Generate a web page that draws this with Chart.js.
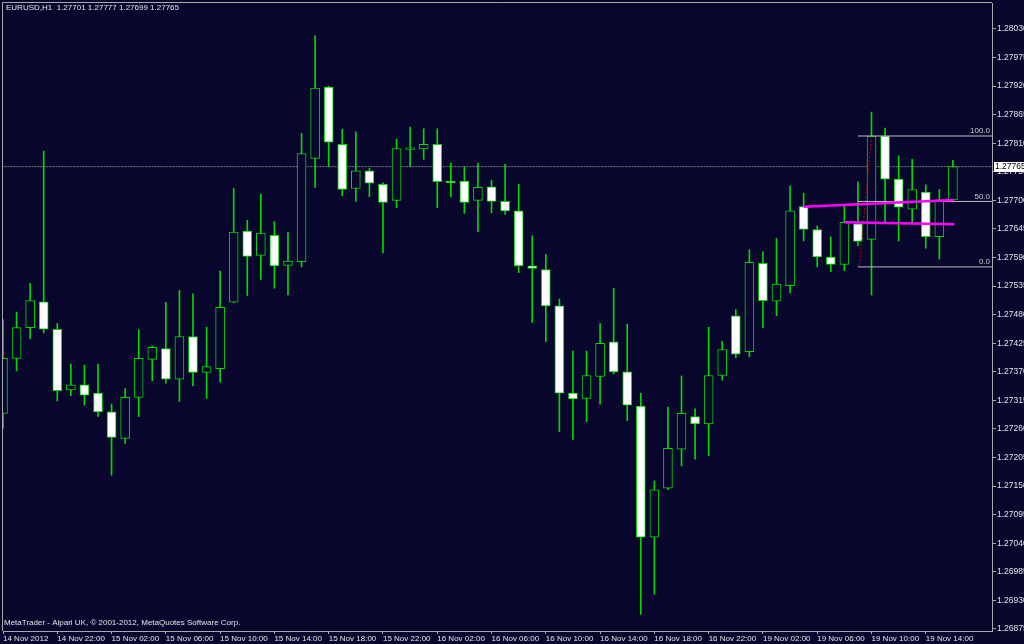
<!DOCTYPE html>
<html>
<head>
<meta charset="utf-8">
<title>EURUSD,H1</title>
<script src="https://cdn.jsdelivr.net/npm/chart.js@4.4.1/dist/chart.umd.min.js"></script>
<style>
  html, body { margin: 0; padding: 0; background: #08062d; }
  #wrap { width: 1024px; height: 644px; position: relative; }
</style>
</head>
<body>
<div id="wrap"><canvas id="chart_eurusdH1"></canvas></div>
<script>
// EURUSD H1, one bar per hour: 14 Nov 18:00 .. 16 Nov 23:00, 19 Nov 00:00 .. 19 Nov 16:00
var symbolName = 'EURUSD,H1';
var open = [
  1.27290, 1.27396, 1.27455, 1.27505, 1.27452, 1.27335, 1.27345, 1.27329, 1.27293, 1.27242,
  1.27321, 1.27394, 1.27415, 1.27356, 1.27438, 1.27369, 1.27376, 1.27504, 1.27641, 1.27594,
  1.27633, 1.27575, 1.27582, 1.27781, 1.27918, 1.27808, 1.27723, 1.27757, 1.27731, 1.27700,
  1.27798, 1.27799, 1.27808, 1.27737, 1.27737, 1.27700, 1.27726, 1.27698, 1.27680, 1.27574,
  1.27567, 1.27497, 1.27329, 1.27319, 1.27361, 1.27428, 1.27370, 1.27304, 1.27052, 1.27146,
  1.27221, 1.27284, 1.27270, 1.27363, 1.27478, 1.27409, 1.27579, 1.27506, 1.27536, 1.27688,
  1.27644, 1.27591, 1.27577, 1.27655, 1.27625, 1.27824, 1.27741, 1.27683, 1.27716, 1.27630,
  1.27701
];
var high = [
  1.27470, 1.27485, 1.27540, 1.27795, 1.27463, 1.27385, 1.27383, 1.27385, 1.27308, 1.27338,
  1.27451, 1.27420, 1.27504, 1.27527, 1.27520, 1.27456, 1.27564, 1.27723, 1.27662, 1.27712,
  1.27659, 1.27639, 1.27829, 1.28017, 1.27920, 1.27837, 1.27832, 1.27762, 1.27734, 1.27818,
  1.27841, 1.27838, 1.27838, 1.27772, 1.27765, 1.27772, 1.27739, 1.27770, 1.27731, 1.27632,
  1.27596, 1.27510, 1.27410, 1.27410, 1.27463, 1.27531, 1.27462, 1.27329, 1.27160, 1.27302,
  1.27362, 1.27299, 1.27456, 1.27429, 1.27490, 1.27605, 1.27601, 1.27627, 1.27728, 1.27714,
  1.27651, 1.27630, 1.27693, 1.27736, 1.27870, 1.27839, 1.27786, 1.27779, 1.27730, 1.27721,
  1.27777
];
var low = [
  1.27261, 1.27372, 1.27434, 1.27445, 1.27314, 1.27324, 1.27306, 1.27284, 1.27171, 1.27232,
  1.27284, 1.27353, 1.27348, 1.27313, 1.27343, 1.27319, 1.27350, 1.27503, 1.27517, 1.27548,
  1.27531, 1.27518, 1.27572, 1.27725, 1.27765, 1.27709, 1.27698, 1.27707, 1.27599, 1.27686,
  1.27765, 1.27779, 1.27686, 1.27707, 1.27675, 1.27640, 1.27676, 1.27673, 1.27561, 1.27465,
  1.27428, 1.27255, 1.27240, 1.27274, 1.27308, 1.27366, 1.27276, 1.26903, 1.26942, 1.27143,
  1.27189, 1.27202, 1.27209, 1.27354, 1.27397, 1.27399, 1.27455, 1.27478, 1.27522, 1.27622,
  1.27572, 1.27563, 1.27565, 1.27613, 1.27518, 1.27656, 1.27622, 1.27656, 1.27608, 1.27587,
  1.27699
];
var close = [
  1.27396, 1.27455, 1.27507, 1.27452, 1.27334, 1.27345, 1.27325, 1.27293, 1.27244, 1.27321,
  1.27396, 1.27417, 1.27356, 1.27438, 1.27369, 1.27380, 1.27494, 1.27639, 1.27592, 1.27637,
  1.27574, 1.27583, 1.27790, 1.27916, 1.27812, 1.27721, 1.27757, 1.27733, 1.27696, 1.27800,
  1.27801, 1.27808, 1.27736, 1.27734, 1.27696, 1.27725, 1.27698, 1.27680, 1.27574, 1.27569,
  1.27497, 1.27329, 1.27318, 1.27363, 1.27425, 1.27370, 1.27306, 1.27052, 1.27143, 1.27223,
  1.27290, 1.27270, 1.27363, 1.27413, 1.27404, 1.27581, 1.27507, 1.27539, 1.27680, 1.27644,
  1.27591, 1.27577, 1.27658, 1.27621, 1.27824, 1.27741, 1.27687, 1.27721, 1.27630, 1.27701,
  1.27765
];

// time axis: bar index of each label, and its text
var xTickIdx = [0, 4, 8, 12, 16, 20, 24, 28, 32, 36, 40, 44, 48, 52, 56, 60, 64, 68];
var xTickText = [
  '14 Nov 2012', '14 Nov 22:00', '15 Nov 02:00', '15 Nov 06:00', '15 Nov 10:00', '15 Nov 14:00',
  '15 Nov 18:00', '15 Nov 22:00', '16 Nov 02:00', '16 Nov 06:00', '16 Nov 10:00', '16 Nov 14:00',
  '16 Nov 18:00', '16 Nov 22:00', '19 Nov 02:00', '19 Nov 06:00', '19 Nov 10:00', '19 Nov 14:00'
];
var yTicks = [
  1.26875, 1.26930, 1.26985, 1.27040, 1.27095, 1.27150, 1.27205, 1.27260, 1.27315, 1.27370, 1.27425,
  1.27480, 1.27535, 1.27590, 1.27645, 1.27700, 1.27755, 1.27810, 1.27865, 1.27920, 1.27975, 1.28030
];

// drawn objects: fibo levels and two trendlines (bar index, price)
var fiboLevels = [1.27824, 1.27698, 1.27572];
var fiboNames = ['100.0', '50.0', '0.0'];
var fiboStart = 63;
var fiboTrend = [{x: 64, y: 1.27824}, {x: 63.1, y: 1.27572}];
var trendUpper = [{x: 59, y: 1.27688}, {x: 70.1, y: 1.27701}];
var trendLower = [{x: 62, y: 1.27658}, {x: 70.1, y: 1.27654}];

var BG = '#08062d';
var GREEN = '#00d800';
var FRAME = '#a9a9a9';
var TEXT = '#e4e4e4';
var FAMILY = "'Liberation Sans', Arial, sans-serif";
var FONT = {family: FAMILY, size: 8};
var last = close.length - 1;

var bodyData = open.map(function (o, i) { return {x: i, y: [o, close[i]]}; });
var bodyFill = open.map(function (o, i) { return close[i] >= o ? BG : '#ffffff'; });
var wickData = high.map(function (h, i) { return {x: i, y: [low[i], h]}; });

var fiboSets = fiboLevels.map(function (lv, k) {
    return {
        type: 'line', label: 'Fibo ' + fiboNames[k],
        data: [{x: fiboStart, y: lv}, {x: 80, y: lv}],
        borderColor: '#bdbdbd', borderWidth: 1, pointRadius: 0, order: 2, clip: 0
    };
});

var chart_eurusdH1 = new Chart(document.getElementById('chart_eurusdH1'), {
    type: 'bar',
    data: {
        datasets: [
            {
                type: 'line', label: 'Bid line',
                data: [{x: -1, y: close[last]}, {x: 80, y: close[last]}],
                borderColor: '#7c7c7c', borderWidth: 1, borderDash: [2, 1],
                pointRadius: 0, order: 5, clip: 0
            },
            {
                label: 'Wicks', data: wickData,
                backgroundColor: GREEN, borderWidth: 0,
                barThickness: 1, grouped: false, order: 4
            },
            {
                label: 'Bodies', data: bodyData,
                backgroundColor: bodyFill, borderColor: GREEN, borderWidth: 1,
                borderSkipped: false, barThickness: 9, grouped: false, order: 3
            }
        ].concat(fiboSets).concat([
            {
                type: 'line', label: 'Fibo trend', data: fiboTrend,
                borderColor: '#c00000', borderWidth: 1, borderDash: [2, 2],
                pointRadius: 0, order: 2
            },
            {
                type: 'line', label: 'Trend 1', data: trendUpper,
                borderColor: '#ff00ff', borderWidth: 2.5, pointRadius: 0, order: 1
            },
            {
                type: 'line', label: 'Trend 2', data: trendLower,
                borderColor: '#ff00ff', borderWidth: 2.5, pointRadius: 0, order: 1
            }
        ])
    },
    options: {
        animation: false,
        responsive: true,
        maintainAspectRatio: false,
        layout: { padding: {left: 3, top: 3, right: 0, bottom: 0} },
        plugins: {
            legend: { display: false },
            tooltip: { enabled: false },
            title: { display: false }
        },
        scales: {
            x: {
                type: 'linear', position: 'bottom',
                min: 0, max: 72.88, bounds: 'data', offset: false,
                afterBuildTicks: function (s) { s.ticks = xTickIdx.map(function (v) { return {value: v}; }); },
                afterFit: function (s) { s.height = 13; s.paddingLeft = 0; s.paddingRight = 0; },
                grid: { drawOnChartArea: false, offset: false, color: FRAME, tickLength: 3 },
                border: { display: true, color: FRAME },
                ticks: {
                    autoSkip: false, maxRotation: 0, minRotation: 0, align: 'start', padding: 0,
                    color: TEXT, font: FONT,
                    callback: function (v, idx) { return xTickText[idx]; }
                }
            },
            y: {
                type: 'linear', position: 'right',
                min: 1.2687115, max: 1.2808, bounds: 'data',
                afterBuildTicks: function (s) { s.ticks = yTicks.map(function (v) { return {value: v}; }); },
                afterFit: function (s) { s.width = 32; s.paddingTop = 0; s.paddingBottom = 0; },
                grid: { drawOnChartArea: false, color: FRAME, tickLength: 4 },
                border: { display: true, color: FRAME },
                ticks: {
                    padding: 1, color: TEXT, font: {family: FAMILY, size: 8.5},
                    callback: function (v) { return v.toFixed(5); }
                }
            }
        }
    },
    plugins: [{
        id: 'terminalLook',
        beforeDraw: function (chart) {
            var ctx = chart.ctx;
            ctx.save();
            ctx.fillStyle = BG;
            ctx.fillRect(0, 0, chart.width, chart.height);
            ctx.restore();
        },
        afterDraw: function (chart) {
            var ctx = chart.ctx, a = chart.chartArea, ys = chart.scales.y;
            ctx.save();
            // left and top frame lines
            ctx.strokeStyle = FRAME;
            ctx.lineWidth = 1;
            ctx.beginPath();
            ctx.moveTo(a.left - 0.5, a.bottom);
            ctx.lineTo(a.left - 0.5, a.top - 0.5);
            ctx.lineTo(a.right, a.top - 0.5);
            ctx.stroke();

            ctx.font = '8px ' + FAMILY;
            ctx.textBaseline = 'middle';
            // header with last bar OHLC
            ctx.fillStyle = TEXT;
            ctx.textAlign = 'left';
            ctx.fillText(symbolName + '  ' + [open[last], high[last], low[last], close[last]]
                .map(function (v) { return v.toFixed(5); }).join(' '), a.left + 3, a.top + 5);
            ctx.fillText('MetaTrader - Alpari UK, \u00a9 2001-2012, MetaQuotes Software Corp.', a.left + 1, a.bottom - 8);

            // fibo level captions
            ctx.fillStyle = '#cfcfcf';
            ctx.textAlign = 'right';
            fiboLevels.forEach(function (lv, k) {
                ctx.fillText(fiboNames[k], a.right - 2, ys.getPixelForValue(lv) - 5);
            });

            // bid price box on the axis
            var py = Math.round(ys.getPixelForValue(close[last]));
            ctx.fillStyle = '#ffffff';
            ctx.fillRect(a.right + 2, py - 5, chart.width - a.right - 2, 10);
            ctx.fillStyle = '#000000';
            ctx.textAlign = 'left';
            ctx.font = '8.5px ' + FAMILY;
            ctx.fillText(close[last].toFixed(5), a.right + 3, py);
            ctx.restore();
        }
    }]
});
</script>
</body>
</html>
